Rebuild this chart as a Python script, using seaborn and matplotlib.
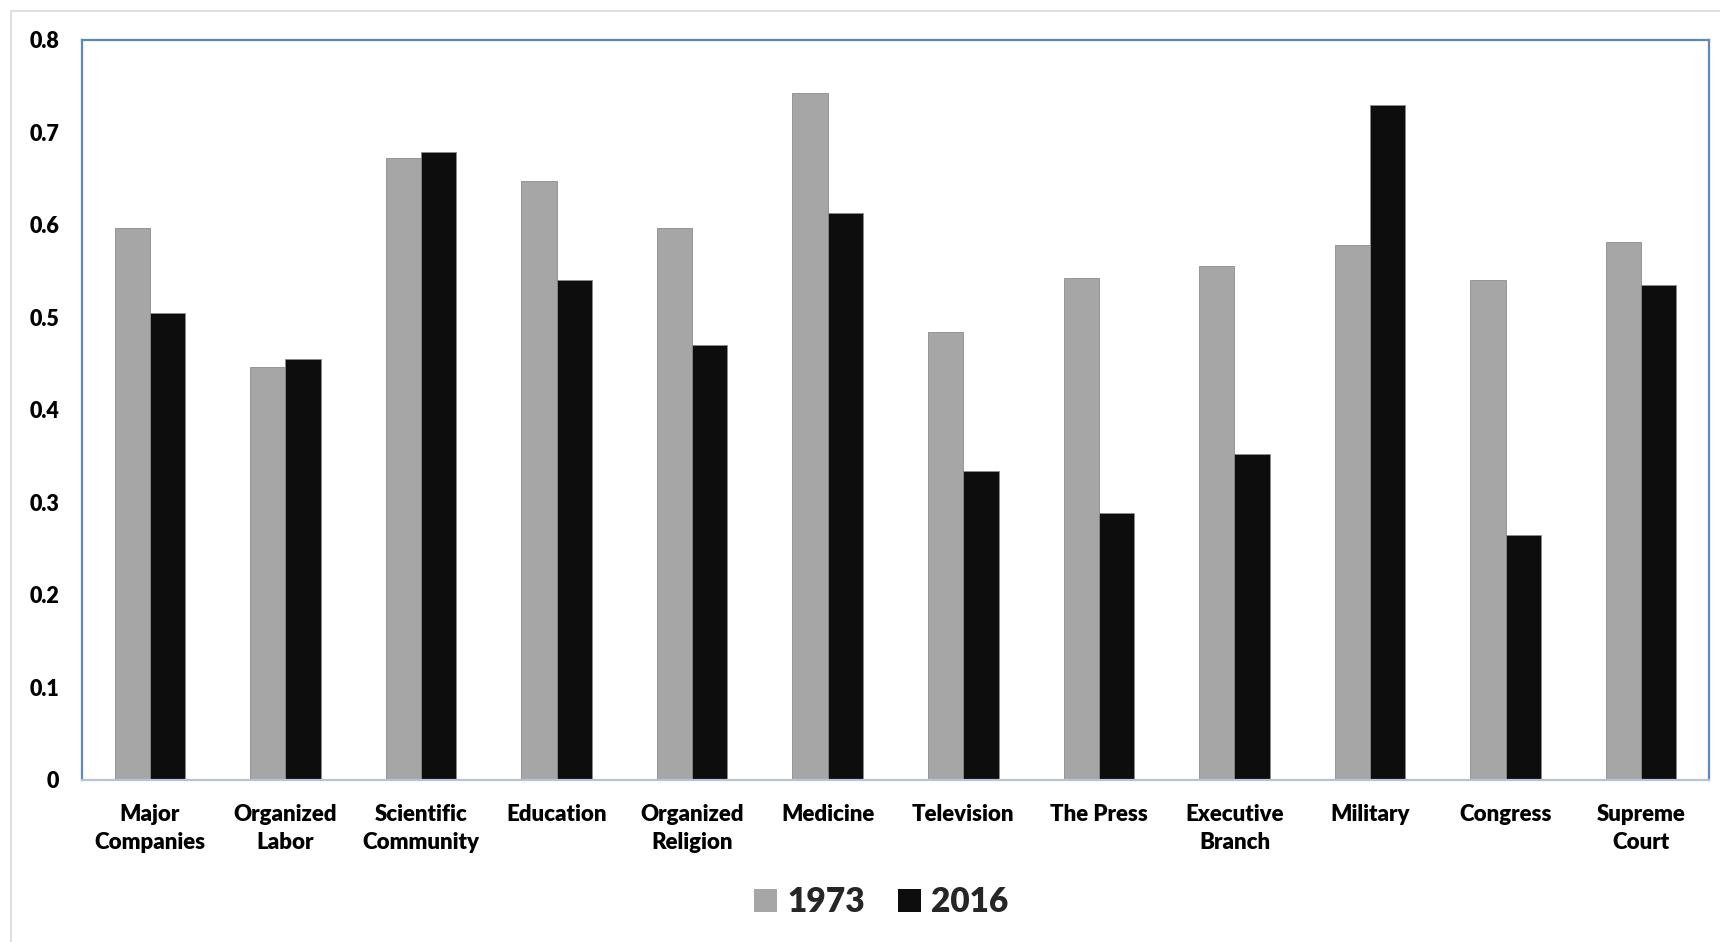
import matplotlib
matplotlib.use("Agg")
import matplotlib.pyplot as plt
import matplotlib.patches as mpatches
import seaborn as sns
import pandas as pd

institutions = ["Major\nCompanies", "Organized\nLabor", "Scientific\nCommunity", "Education",
                "Organized\nReligion", "Medicine", "Television", "The Press",
                "Executive\nBranch", "Military", "Congress", "Supreme\nCourt"]
conf_1973 = [0.596, 0.446, 0.672, 0.647, 0.596, 0.742, 0.484, 0.542, 0.555, 0.578, 0.540, 0.581]
conf_2016 = [0.505, 0.455, 0.678, 0.540, 0.470, 0.613, 0.334, 0.288, 0.352, 0.729, 0.265, 0.535]
years = ["1973", "2016"]
y_ticks = [0, 0.1, 0.2, 0.3, 0.4, 0.5, 0.6, 0.7, 0.8]
y_tick_labels = ["0", "0.1", "0.2", "0.3", "0.4", "0.5", "0.6", "0.7", "0.8"]

df = pd.DataFrame({
    "Institution": institutions * 2,
    "Confidence": conf_1973 + conf_2016,
    "Year": [years[0]] * len(institutions) + [years[1]] * len(institutions),
})

sns.set_theme(style="white")
plt.rcParams["font.family"] = ["Lato", "DejaVu Sans"]
WEIGHT = "heavy"

fig = plt.figure(figsize=(17.2, 9.42), dpi=100)
ax = fig.add_axes([82 / 1720, 1 - 780 / 942, (1709 - 82) / 1720, (780 - 39.5) / 942])

palette = {"1973": "#A6A6A6", "2016": "#0D0D0D"}
sns.barplot(data=df, x="Institution", y="Confidence", hue="Year", palette=palette,
            width=0.52, ax=ax, saturation=1, edgecolor="#8C8C8C", linewidth=0.6)

ax.set_ylim(0, 0.8)
ax.set_xlim(-0.5, len(institutions) - 0.5)
ax.set_yticks(y_ticks)
ax.set_yticklabels(y_tick_labels)
ax.set_xlabel("")
ax.set_ylabel("")
ax.tick_params(axis="y", length=0, pad=16.5, labelsize=15.5)
ax.tick_params(axis="x", length=0, pad=17, labelsize=16)
for lbl in ax.get_xticklabels() + ax.get_yticklabels():
    lbl.set_fontweight(WEIGHT)
    lbl.set_color("#000000")
    lbl.set_linespacing(1.45)

for side in ["top", "left", "right"]:
    ax.spines[side].set_color("#5B87C5")
    ax.spines[side].set_linewidth(1.6)
ax.spines["bottom"].set_color("#B4C3D8")
ax.spines["bottom"].set_linewidth(1.6)

leg = ax.get_legend()
if leg is not None:
    leg.remove()
handles = [mpatches.Patch(facecolor=palette[y], edgecolor="none", label=y) for y in years]
fig.legend(handles=handles, loc="center", bbox_to_anchor=(881 / 1720, 1 - 902 / 942),
           ncol=2, frameon=False, handlelength=0.7, handleheight=0.7, handletextpad=0.3,
           columnspacing=1.0, prop={"size": 24, "weight": WEIGHT})

# light outer frame around the chart area
fig.patches.append(mpatches.Rectangle((11 / 1720, -0.1), 1.2, 1 - 11 / 942 + 0.1,
                                      transform=fig.transFigure, fill=False,
                                      edgecolor="#D9D9D9", linewidth=1.2))

fig.savefig("out.png", dpi=100)
